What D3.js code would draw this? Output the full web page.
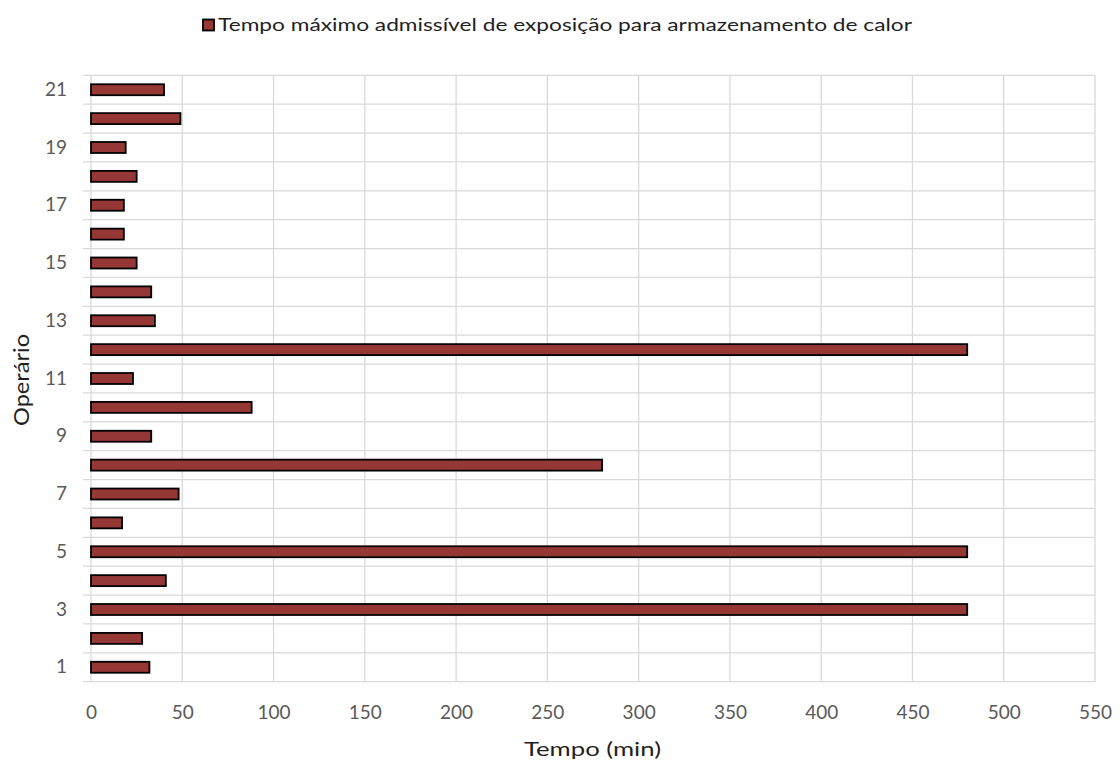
<!DOCTYPE html>
<html>
<head>
<meta charset="utf-8">
<script src="https://cdn.jsdelivr.net/npm/d3@7/dist/d3.min.js"></script>
<style>
  html, body { margin: 0; padding: 0; background: #fff; }
  svg { display: block; font-family: "Lato", "Open Sans", sans-serif; }
</style>
</head>
<body>
<svg id="chart" width="1120" height="763"></svg>
<script>
// Operators and their maximum allowable exposure time (min)
const operators = ["1","2","3","4","5","6","7","8","9","10","11","12","13","14","15","16","17","18","19","20","21"];
const exposureTime = [32, 28, 480, 41, 480, 17, 48, 280, 33, 88, 23, 480, 35, 33, 25, 18, 18, 25, 19, 49, 40];
const xTicks = [0, 50, 100, 150, 200, 250, 300, 350, 400, 450, 500, 550];
const yTickLabels = ["1","3","5","7","9","11","13","15","17","19","21"];
const seriesName = "Tempo máximo admissível de exposição para armazenamento de calor";
const xTitle = "Tempo (min)";
const yTitle = "Operário";

const barFill = "#953735";
const gridColor = "#d9d9d9";
const tickColor = "#595959";
const titleColor = "#1f1f1f";

const plot = { left: 91, right: 1095, top: 75.3, bottom: 681.7 };

const svg = d3.select("#chart");

const x = d3.scaleLinear().domain([0, 550]).range([plot.left, plot.right]);
const y = d3.scaleBand().domain(operators).range([plot.bottom, plot.top]).paddingInner(0.62).paddingOuter(0.31);

// Vertical gridlines
svg.append("g")
  .selectAll("line")
  .data(xTicks)
  .join("line")
  .attr("x1", d => x(d)).attr("x2", d => x(d))
  .attr("y1", plot.top).attr("y2", plot.bottom)
  .attr("stroke", gridColor).attr("stroke-width", 1.3);

// Horizontal category separators (with small outer ticks)
const bandEdges = d3.range(operators.length + 1).map(i => plot.bottom - i * y.step());
svg.append("g")
  .selectAll("line")
  .data(bandEdges)
  .join("line")
  .attr("x1", plot.left - 8).attr("x2", plot.right)
  .attr("y1", d => d).attr("y2", d => d)
  .attr("stroke", gridColor).attr("stroke-width", 1.3);

// Bars
svg.append("g")
  .selectAll("rect")
  .data(operators.map((o, i) => ({ o, v: exposureTime[i] })))
  .join("rect")
  .attr("x", x(0))
  .attr("y", d => y(d.o))
  .attr("width", d => x(d.v) - x(0))
  .attr("height", y.bandwidth())
  .attr("fill", barFill)
  .attr("stroke", "#000")
  .attr("stroke-width", 1.8);

// X axis tick labels
const xAxis = d3.axisBottom(x).tickValues(xTicks).tickSize(0).tickPadding(0);
const gx = svg.append("g").attr("transform", `translate(0, ${plot.bottom + 24})`).call(xAxis);
gx.select(".domain").remove();
gx.selectAll("text")
  .attr("fill", tickColor)
  .attr("font-size", 19)
  .attr("font-family", "Lato, 'Open Sans', sans-serif");

// Y axis tick labels (odd operators only)
const yAxis = d3.axisLeft(y).tickValues(yTickLabels).tickSize(0).tickPadding(0);
const gy = svg.append("g").attr("transform", `translate(${plot.left - 24}, 0)`).call(yAxis);
gy.select(".domain").remove();
gy.selectAll("text")
  .attr("fill", tickColor)
  .attr("font-size", 19)
  .attr("font-family", "Lato, 'Open Sans', sans-serif");

// Axis titles
svg.append("text")
  .attr("x", 592.5)
  .attr("y", 756)
  .attr("text-anchor", "middle")
  .attr("font-size", 20)
  .attr("textLength", 137)
  .attr("lengthAdjust", "spacingAndGlyphs")
  .attr("fill", titleColor)
  .text(xTitle);

svg.append("text")
  .attr("transform", `translate(29, 380) rotate(-90)`)
  .attr("text-anchor", "middle")
  .attr("font-size", 21)
  .attr("textLength", 92)
  .attr("lengthAdjust", "spacingAndGlyphs")
  .attr("fill", titleColor)
  .text(yTitle);

// Legend
const legend = svg.append("g");
legend.append("rect")
  .attr("x", 203).attr("y", 19.5)
  .attr("width", 11).attr("height", 11)
  .attr("fill", barFill).attr("stroke", "#000").attr("stroke-width", 1.8);
legend.append("text")
  .attr("x", 218).attr("y", 31)
  .attr("font-size", 18)
  .attr("textLength", 694)
  .attr("lengthAdjust", "spacingAndGlyphs")
  .attr("fill", titleColor)
  .text(seriesName);
</script>
</body>
</html>
